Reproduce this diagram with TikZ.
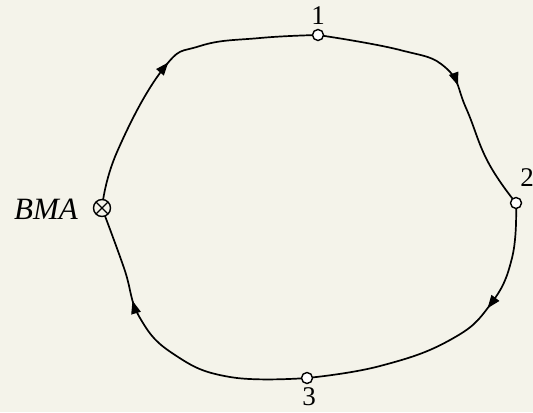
\documentclass[tikz,border=0pt]{standalone}
\usepackage{fontspec}
\setmainfont{Liberation Serif}
\usetikzlibrary{arrows.meta,decorations.markings}
\definecolor{paper}{RGB}{244,243,234}
\pgfdeclarelayer{bg}
\pgfsetlayers{bg,main}
\tikzset{
  px/.style={x=0.5pt, y=-0.5pt},
  c stn/.style={circle, draw, fill=white, inner sep=0pt, minimum size=5.5pt, line width=0.7pt},
  c bma/.style={circle, draw, fill=paper, inner sep=0pt, minimum size=8.5pt, line width=0.7pt,
    path picture={\draw[line width=0.7pt] (path picture bounding box.north west) -- (path picture bounding box.south east)
      (path picture bounding box.north east) -- (path picture bounding box.south west);}},
  c num/.style={font=\fontsize{13.5}{14}\selectfont, inner sep=0pt},
  c name/.style={font=\fontsize{15.5}{17}\selectfont\itshape, inner sep=0pt},
  c line/.style={line width=0.85pt, black},
  c mid/.style={postaction={decorate, decoration={markings,
    mark=at position #1 with {\arrow{Triangle[length=6.5pt, width=4.8pt]}}}}},
}
\begin{document}
\begin{tikzpicture}[px]
\useasboundingbox (0,0) rectangle (533,412);
\node[c bma] (bma) at (102,208) {};
\node[c stn] (n1) at (318,35) {};
\node[c stn] (n2) at (516,203) {};
\node[c stn] (n3) at (307,378) {};
\node[c name] (lbma) at (46,209) {BMA};
\node[c num] (l1) at (318,16) {1};
\node[c num] (l2) at (527,178) {2};
\node[c num] (l3) at (309,397) {3};
\coordinate (a1) at (117,152); \coordinate (a2) at (163,69); \coordinate (a3) at (200,46); \coordinate (a4) at (260,38);
\coordinate (b1) at (400,50); \coordinate (b2) at (446,68); \coordinate (b3) at (466,108); \coordinate (b4) at (488,162);
\coordinate (c1) at (512,258); \coordinate (c2) at (490,305); \coordinate (c3) at (450,340); \coordinate (c4) at (380,366);
\coordinate (d1) at (230,377); \coordinate (d2) at (175,355); \coordinate (d3) at (140,318); \coordinate (d4) at (124,268);
\begin{pgfonlayer}{bg}
\fill[paper] (0,0) rectangle (533,412);
\draw[c line, c mid=0.51] plot[smooth, tension=0.75] coordinates {(bma) (a1) (a2) (a3) (a4) (n1)};
\draw[c line, c mid=0.54] plot[smooth, tension=0.75] coordinates {(n1) (b1) (b2) (b3) (b4) (n2)};
\draw[c line, c mid=0.36] plot[smooth, tension=0.75] coordinates {(n2) (c1) (c2) (c3) (c4) (n3)};
\draw[c line, c mid=0.68] plot[smooth, tension=0.75] coordinates {(n3) (d1) (d2) (d3) (d4) (bma)};
\end{pgfonlayer}
\end{tikzpicture}
\end{document}
